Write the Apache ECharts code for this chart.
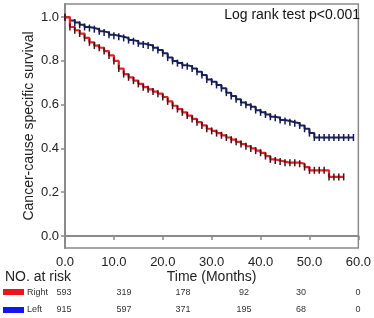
<!DOCTYPE html>
<html><head><meta charset="utf-8">
<script src="https://cdn.jsdelivr.net/npm/echarts@6/dist/echarts.min.js"></script>
<style>html,body{margin:0;padding:0;background:#fff}#c{width:374px;height:318px}</style>
</head><body><div id="c"></div>
<script>
// Time points (months) with censor marks, and survival estimates
const rightTimes = [0,1,2,3,4,5,6,7,8,9,10,11,12,13,14,15,16,17,18,19,20,21,22,23,24,25,26,27,28,29,30,31,32,33,34,35,36,37,38,39,40,41,42,43,44,45,46,47,48,49,50,51,52,53,54,55,56,57];
const rightSurv  = [1.0,0.955,0.94,0.925,0.905,0.885,0.87,0.86,0.845,0.825,0.80,0.765,0.74,0.725,0.71,0.695,0.68,0.67,0.66,0.65,0.635,0.615,0.595,0.58,0.565,0.55,0.535,0.52,0.505,0.49,0.48,0.47,0.46,0.45,0.44,0.43,0.42,0.41,0.40,0.39,0.38,0.365,0.35,0.345,0.34,0.335,0.335,0.335,0.33,0.315,0.30,0.30,0.30,0.30,0.27,0.27,0.27,0.27];
const leftTimes  = [0,1,2,3,4,5,6,7,8,9,10,11,12,13,14,15,16,17,18,19,20,21,22,23,24,25,26,27,28,29,30,31,32,33,34,35,36,37,38,39,40,41,42,43,44,45,46,47,48,49,50,51,52,53,54,55,56,57,58,59];
const leftSurv   = [1.0,0.985,0.975,0.965,0.955,0.95,0.945,0.935,0.93,0.92,0.915,0.91,0.905,0.895,0.89,0.88,0.875,0.87,0.86,0.85,0.835,0.815,0.80,0.79,0.78,0.775,0.765,0.75,0.735,0.715,0.705,0.69,0.675,0.655,0.64,0.625,0.61,0.60,0.59,0.575,0.565,0.555,0.545,0.54,0.53,0.525,0.52,0.515,0.505,0.49,0.47,0.45,0.45,0.45,0.45,0.45,0.45,0.45,0.45,0.45];
const yTicks = [0,0.2,0.4,0.6,0.8,1.0];
const groups = ["Right","Left"];
const riskRight = [593,319,178,92,30,0];
const riskLeft  = [915,597,371,195,68,0];
const riskX = [64,124,183,244,301,358];

const FONT = 'Liberation Sans, Arial, sans-serif';
const chart = echarts.init(document.getElementById('c'), null, {renderer:'canvas'});
const zip = (a,b) => a.map((t,i)=>[t,b[i]]);

const riskText = [];
[riskRight, riskLeft].forEach((arr, r) => {
  arr.forEach((n, i) => riskText.push({
    type:'text', x: riskX[i], y: r===0 ? 293 : 310,
    style:{text:String(n), font:'9px '+FONT, fill:'#333', align:'center', verticalAlign:'middle'}
  }));
});

chart.setOption({
  animation:false,
  grid:{left:65,right:9,top:4,bottom:70,show:true,borderColor:'#8a8a8a',borderWidth:1.5,backgroundColor:'transparent'},
  xAxis:{type:'value',min:0,max:60,interval:10,
    name:'Time (Months)',nameLocation:'middle',nameGap:22,nameMoveOverlap:false,
    nameTextStyle:{fontFamily:FONT,fontSize:14,color:'#222'},
    axisLine:{lineStyle:{color:'#8a8a8a',width:2}},
    axisTick:{show:true,length:4,lineStyle:{color:'#8a8a8a',width:1.5}},
    axisLabel:{fontFamily:FONT,fontSize:13,color:'#222',margin:8,formatter:v=>v.toFixed(1)},
    splitLine:{show:false}},
  yAxis:{type:'value',min:-0.055,max:1.06,
    name:'Cancer-cause specific survival',nameLocation:'middle',nameRotate:90,nameGap:29,nameMoveOverlap:false,
    nameTextStyle:{fontFamily:FONT,fontSize:14,color:'#222'},
    axisLine:{show:true,lineStyle:{color:'#8a8a8a',width:2}},
    axisTick:{show:true,length:4,customValues:yTicks,lineStyle:{color:'#8a8a8a',width:1.5}},
    axisLabel:{fontFamily:FONT,fontSize:13,color:'#222',margin:6,customValues:yTicks,formatter:v=>v.toFixed(1)},
    splitLine:{show:false}},
  series:[
    {name:groups[1],type:'line',step:'end',data:zip(leftTimes,leftSurv),
      lineStyle:{color:'#1c2260',width:2},symbol:'rect',symbolSize:[1.5,7],
      itemStyle:{color:'#141a50'},z:3},
    {name:groups[0],type:'line',step:'end',data:zip(rightTimes,rightSurv),
      lineStyle:{color:'#e2232b',width:2.2},symbol:'rect',symbolSize:[1.5,7],
      itemStyle:{color:'#4a1014'},z:4}
  ],
  graphic:[
    {type:'text',right:14,top:8,style:{text:'Log rank test p<0.001',font:'14px '+FONT,fill:'#111'}},
    {type:'text',x:5,y:277,style:{text:'NO. at risk',font:'14px '+FONT,fill:'#222',verticalAlign:'middle'}},
    {type:'rect',shape:{x:3,y:289,width:21,height:6},style:{fill:'#f01418'}},
    {type:'rect',shape:{x:3,y:307,width:21,height:6},style:{fill:'#1414f0'}},
    {type:'text',x:27,y:293,style:{text:groups[0],font:'9px '+FONT,fill:'#333',verticalAlign:'middle'}},
    {type:'text',x:27,y:310,style:{text:groups[1],font:'9px '+FONT,fill:'#333',verticalAlign:'middle'}},
    ...riskText
  ]
});
</script></body></html>
